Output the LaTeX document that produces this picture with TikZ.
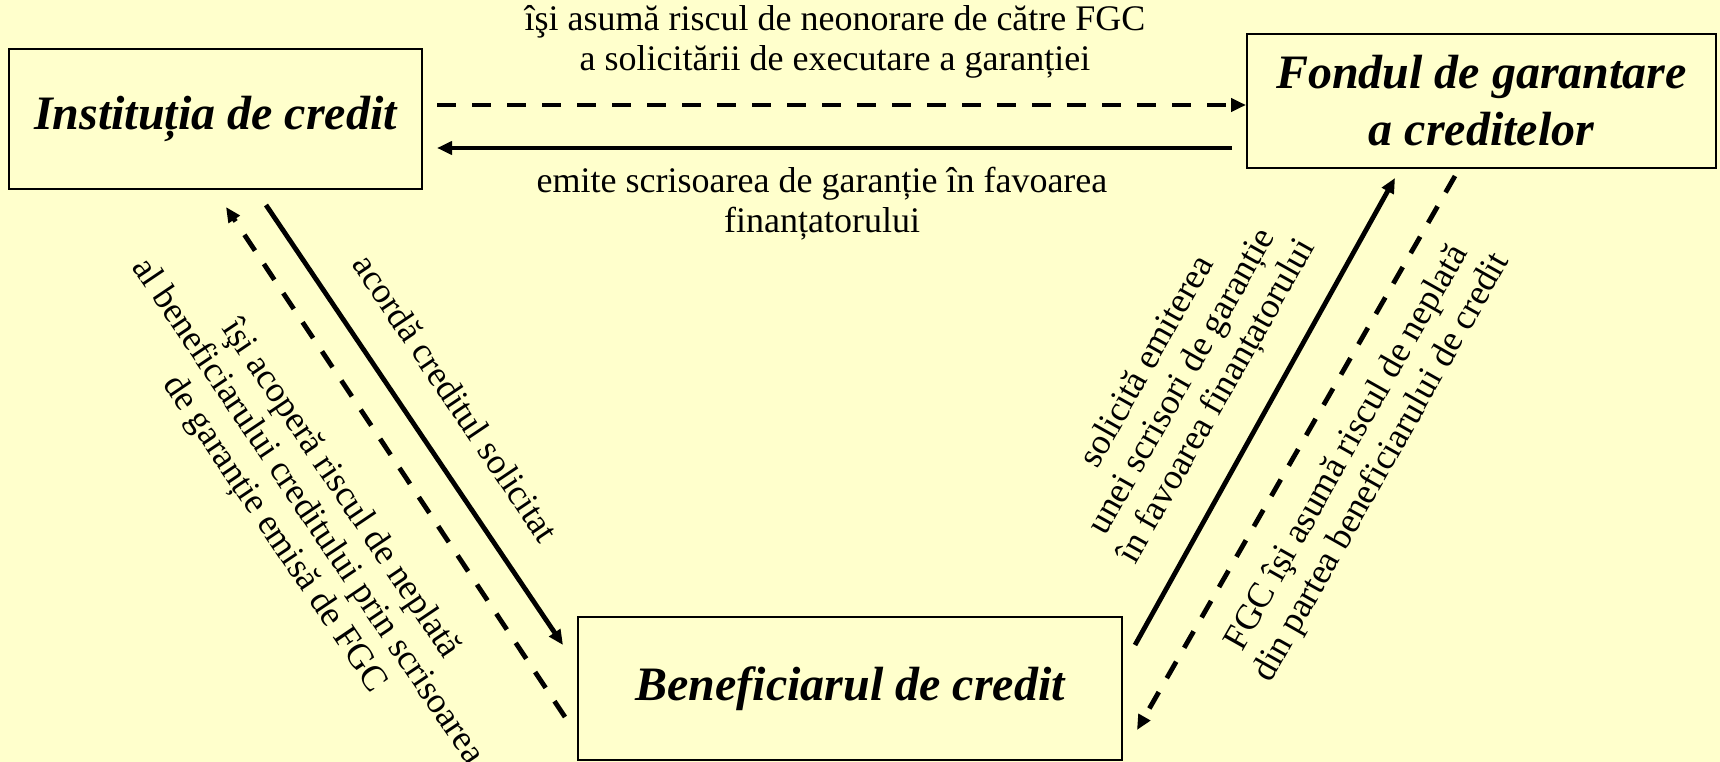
\documentclass[tikz,border=0pt]{standalone}
\usepackage{fontspec}
\setmainfont{Liberation Serif}
\usetikzlibrary{arrows.meta}
\definecolor{bgyellow}{HTML}{FFFFCC}
\begin{document}
\begin{tikzpicture}[x=1pt,y=-1pt,
  boxnode/.style={draw=black, line width=2pt, rectangle, inner sep=0pt,
    font=\fontsize{48}{57}\selectfont\bfseries\itshape, align=center},
  lbl/.style={font=\fontsize{36}{40}\selectfont, align=center, inner sep=0pt},
  conn/.style={line width=4.8pt, -{Triangle[length=15pt,width=13pt]}},
  dconn/.style={conn, dash pattern=on 19pt off 16pt},
]
\useasboundingbox (0,0) rectangle (1720,762);
\fill[bgyellow] (0,0) rectangle (1720,762);

% boxes
\node[boxnode, minimum width=413pt, minimum height=140pt] (inst) at (215.5,119) {Instituția de credit};
\node[boxnode, minimum width=469pt, minimum height=134pt] (fgc) at (1481.5,101) {Fondul de garantare\\a creditelor};
\node[boxnode, minimum width=544pt, minimum height=143pt] (ben) at (850,688.5) {Beneficiarul de credit};

% connector end points
\coordinate (t1s) at (437,105);
\coordinate (t2s) at (1232,148);
\coordinate (t2e) at (437,148);
\coordinate (l1s) at (266,205);
\coordinate (l1e) at (563,645);
\coordinate (l2s) at (565,717);
\coordinate (l2e) at (226,207);
\coordinate (r1s) at (1135,645);
\coordinate (r1e) at (1395,178);
\coordinate (r2s) at (1455,176);
\coordinate (r2e) at (1137,730);

% connectors
\draw[dconn] (t1s) -- (t1s -| fgc.west);
\draw[conn] (t2s) -- (t2e);
\draw[conn] (l1s) -- (l1e);
\draw[dconn] (l2s) -- (l2e);
\draw[conn] (r1s) -- (r1e);
\draw[dconn] (r2s) -- (r2e);

% labels
\node[lbl] (tt) at (835,42) {îşi asumă riscul de neonorare de către FGC\\a solicitării de executare a garanției};
\node[lbl] (tb) at (822,204) {emite scrisoarea de garanție în favoarea\\finanțatorului};
\node[lbl, rotate=-56] (ll1) at (456,398) {acordă creditul solicitat};
\node[lbl, rotate=-56] (ll2) at (307,512) {îşi acoperă riscul de neplată\\al beneficiarului creditului prin scrisoarea\\de garanție emisă de FGC};
\node[lbl, rotate=60.5] (rl1) at (1183,382) {solicită emiterea\\unei scrisori de garanție\\în favoarea finanțatorului};
\node[lbl, rotate=60.5] (rl2) at (1365,458) {FGC îşi asumă riscul de neplată\\din partea beneficiarului de credit};
\end{tikzpicture}
\end{document}
